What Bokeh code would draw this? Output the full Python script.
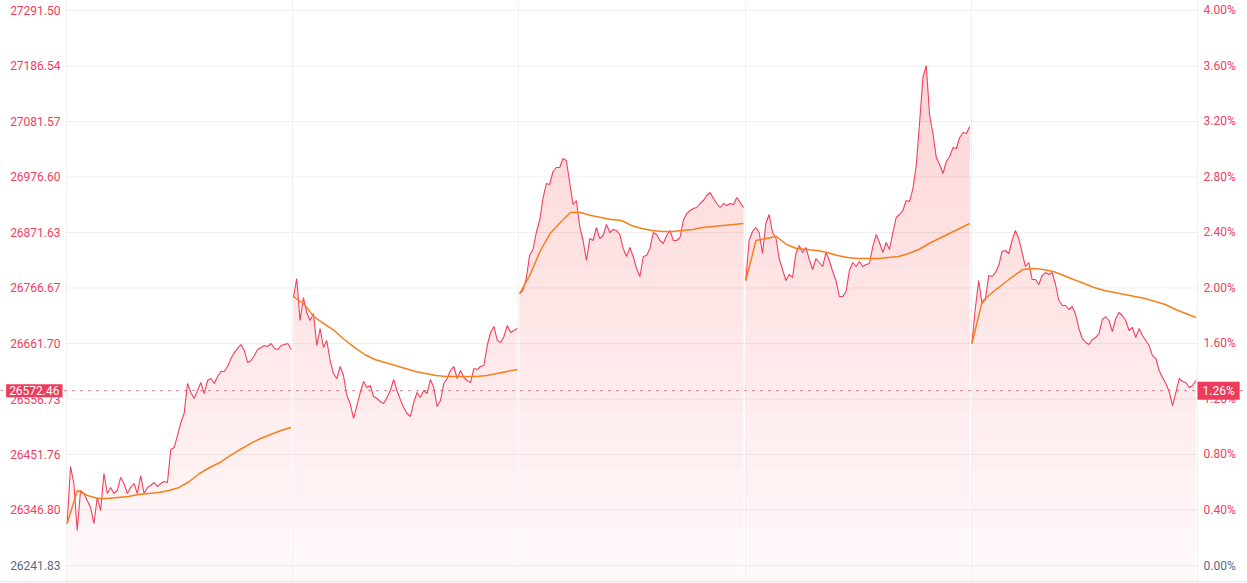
from bokeh.plotting import figure
from bokeh.models import Range1d, LinearAxis, FixedTicker, CustomJSTickFormatter, Span, Label
from bokeh.embed import file_html
from bokeh.resources import INLINE

base_price = 26241.83
last_price = 26572.46
left_ticks = [26241.83, 26346.80, 26451.76, 26556.73, 26661.70, 26766.67,
              26871.63, 26976.60, 27081.57, 27186.54, 27291.50]
pct_ticks = [0.00, 0.40, 0.80, 1.20, 1.60, 2.00, 2.40, 2.80, 3.20, 3.60, 4.00]
day_bounds = [0, 1, 2, 3, 4, 5]

day1_price = [26321.2, 26429.1, 26396.9, 26308.0, 26383.7, 26378.0, 26364.7, 26351.5, 26321.2, 26370.5,
              26345.8, 26415.8, 26378.0, 26389.4, 26378.0, 26383.7, 26408.3, 26396.9, 26378.0, 26389.4,
              26396.9, 26378.0, 26412.0, 26378.0, 26389.4, 26393.1, 26398.8, 26391.3, 26396.9, 26400.7,
              26398.8, 26461.2, 26465.0, 26487.6, 26512.3, 26529.3, 26586.0, 26569.0, 26557.7, 26572.8,
              26587.9, 26567.1, 26591.7, 26595.5, 26586.0, 26599.3, 26608.7, 26608.7, 26618.2, 26633.3,
              26644.6, 26652.3, 26659.8, 26648.4, 26625.7, 26629.5, 26638.9, 26650.3, 26654.2, 26657.9,
              26656.0, 26661.7, 26652.3, 26650.3, 26657.9, 26659.8, 26661.7, 26650.3]
day1_avg = [26321.2, 26383.7, 26374.2, 26368.5, 26368.5, 26370.5, 26372.4, 26376.1, 26378.0, 26379.9,
            26383.7, 26389.4, 26400.7, 26415.8, 26427.2, 26436.6, 26449.8, 26461.2, 26472.5, 26482.0,
            26489.5, 26497.1, 26502.8]

day2_price = [26748.7, 26784.6, 26705.2, 26748.7, 26720.3, 26705.2, 26718.4, 26657.9, 26690.1, 26654.2,
              26667.4, 26629.5, 26604.9, 26595.5, 26618.2, 26601.1, 26563.3, 26548.2, 26519.9, 26544.4,
              26569.0, 26589.8, 26578.5, 26582.2, 26561.5, 26557.7, 26552.0, 26548.2, 26559.6, 26572.8,
              26593.6, 26572.8, 26555.8, 26540.7, 26529.3, 26523.7, 26550.1, 26569.0, 26559.6, 26572.8,
              26567.1, 26593.6, 26578.5, 26542.6, 26553.9, 26586.0, 26595.5, 26610.6, 26618.2, 26595.5,
              26610.6, 26597.4, 26591.7, 26587.9, 26614.4, 26612.5, 26618.2, 26620.1, 26657.9, 26682.5,
              26694.0, 26667.4, 26663.6, 26675.0, 26695.9, 26682.5, 26686.3, 26690.1]
day2_avg = [26750.6, 26737.3, 26712.6, 26699.5, 26686.3, 26669.3, 26654.2, 26640.9, 26631.4, 26625.7,
            26620.1, 26614.4, 26608.7, 26604.9, 26601.1, 26599.3, 26599.3, 26599.3, 26599.3, 26601.1,
            26604.9, 26608.7, 26612.5]

day3_price = [26756.2, 26761.9, 26784.6, 26828.1, 26839.5, 26871.6, 26894.3, 26935.9, 26964.3, 26962.4,
              26987.0, 26994.6, 26994.6, 27011.6, 27007.8, 26966.2, 26924.6, 26932.1, 26883.0, 26856.5,
              26818.7, 26860.3, 26856.5, 26881.1, 26860.3, 26865.9, 26886.7, 26871.6, 26877.3, 26875.4,
              26867.8, 26841.4, 26826.2, 26843.3, 26826.2, 26803.5, 26788.4, 26826.2, 26828.1, 26841.4,
              26871.6, 26867.8, 26856.5, 26850.8, 26865.9, 26875.4, 26856.5, 26856.5, 26862.2, 26894.3,
              26907.5, 26913.2, 26917.0, 26918.9, 26926.5, 26932.1, 26941.6, 26947.3, 26935.9, 26926.5,
              26918.9, 26926.5, 26922.7, 26926.5, 26924.6, 26937.8, 26928.4, 26918.9]
day3_avg = [26756.2, 26790.3, 26835.7, 26869.7, 26890.5, 26909.4, 26909.4, 26903.8, 26900.0, 26896.2,
            26894.3, 26884.9, 26879.2, 26875.4, 26873.5, 26873.5, 26875.4, 26877.3, 26881.1, 26883.0,
            26884.9, 26886.7, 26888.6]

day4_price = [26780.8, 26856.5, 26873.5, 26881.1, 26871.6, 26831.9, 26888.6, 26905.7, 26871.6, 26862.2,
              26822.4, 26801.6, 26780.8, 26792.2, 26786.5, 26831.9, 26847.0, 26833.8, 26843.3, 26820.6,
              26801.6, 26822.4, 26814.9, 26807.3, 26833.8, 26818.7, 26797.9, 26780.8, 26750.6, 26750.6,
              26760.0, 26799.7, 26814.9, 26807.3, 26816.8, 26807.3, 26811.1, 26813.0, 26845.1, 26867.8,
              26852.7, 26833.8, 26852.7, 26839.5, 26871.6, 26900.0, 26905.7, 26913.2, 26932.1, 26930.2,
              26954.8, 26998.4, 27079.7, 27164.8, 27187.5, 27092.9, 27058.9, 27013.5, 27000.2, 26983.2,
              27005.9, 27015.4, 27032.4, 27030.5, 27051.3, 27060.8, 27058.9, 27072.1]
day4_avg = [26780.8, 26856.5, 26860.3, 26864.1, 26848.9, 26841.4, 26839.5, 26837.6, 26833.8, 26828.1,
            26824.3, 26822.4, 26822.4, 26822.4, 26824.3, 26826.2, 26831.9, 26839.5, 26850.8, 26860.3,
            26869.7, 26879.2, 26888.6]

day5_price = [26661.7, 26727.9, 26780.8, 26737.3, 26744.9, 26790.3, 26788.4, 26795.9, 26809.2, 26835.7,
              26837.6, 26831.9, 26856.5, 26875.4, 26860.3, 26833.8, 26807.3, 26814.9, 26782.7, 26782.7,
              26773.3, 26790.3, 26795.9, 26792.2, 26795.9, 26773.3, 26743.0, 26733.6, 26733.6, 26726.0,
              26731.7, 26716.5, 26690.1, 26671.2, 26663.6, 26659.8, 26669.3, 26673.0, 26680.6, 26707.1,
              26712.6, 26705.2, 26684.4, 26709.0, 26720.3, 26714.6, 26705.2, 26686.3, 26692.0, 26673.0,
              26690.1, 26676.8, 26667.4, 26657.9, 26638.9, 26633.3, 26610.6, 26597.4, 26586.0, 26570.9,
              26544.4, 26569.0, 26595.5, 26589.8, 26587.9, 26578.5, 26582.2, 26591.7]
day5_avg = [26661.7, 26741.1, 26758.1, 26773.3, 26788.4, 26801.6, 26803.5, 26801.6, 26797.9, 26790.3,
            26782.7, 26775.2, 26767.6, 26761.9, 26758.1, 26754.3, 26750.6, 26746.8, 26741.1, 26735.4,
            26726.0, 26718.4, 26710.8]

days = [(day1_price, day1_avg), (day2_price, day2_avg), (day3_price, day3_avg),
        (day4_price, day4_avg), (day5_price, day5_avg)]

RED = "#f0405e"
BOX = "#ee3b5b"
ORANGE = "#f77f1c"
GRID = "#f0f0f0"
MUTED = "#5b6a85"
FONT = "Roboto"

W, H = 1247, 583
# frame covers the full figure; the five trading days occupy the middle part
px_day = 1131 / 5.0
x_start = -66 / px_day
x_end = 5 + 50 / px_day
px_price = (left_ticks[-1] - left_ticks[0]) / 555.0
y_end = left_ticks[-1] + 10 * px_price
y_start = left_ticks[0] - 18 * px_price

p = figure(width=W, height=H, output_backend="svg", toolbar_location=None,
           x_range=Range1d(x_start, x_end), y_range=Range1d(y_start, y_end),
           min_border=0, min_border_left=0, min_border_right=0, min_border_top=0, min_border_bottom=0)
p.background_fill_color = "white"
p.border_fill_color = "white"
p.outline_line_color = None
p.extra_y_ranges = {"pct": Range1d((y_start / base_price - 1) * 100, (y_end / base_price - 1) * 100)}

p.xaxis.visible = False
p.xgrid.ticker = FixedTicker(ticks=day_bounds)
p.xgrid.grid_line_color = GRID
p.ygrid.visible = False

# horizontal grid lines only across the trading days
p.segment(x0=[day_bounds[0]] * len(left_ticks), x1=[day_bounds[-1]] * len(left_ticks),
          y0=left_ticks, y1=left_ticks, line_color=GRID, line_width=1)

ya = p.yaxis[0]
ya.fixed_location = day_bounds[0]
ya.ticker = FixedTicker(ticks=left_ticks)
ya.formatter = CustomJSTickFormatter(args=dict(lo=left_ticks[0]),
                                     code="return Math.abs(tick - lo) < 0.01 ? '' : tick.toFixed(2);")
ra = LinearAxis(y_range_name="pct", ticker=FixedTicker(ticks=pct_ticks), fixed_location=day_bounds[-1],
                formatter=CustomJSTickFormatter(code="return Math.abs(tick) < 1e-6 ? '' : tick.toFixed(2) + '%';"))
p.add_layout(ra, "right")
for ax in (ya, ra):
    ax.axis_line_color = None
    ax.major_tick_line_color = None
    ax.minor_tick_line_color = None
    ax.major_tick_out = 0
    ax.major_tick_in = 0
    ax.minor_tick_out = 0
    ax.minor_tick_in = 0
    ax.major_label_text_color = RED
    ax.major_label_text_font = FONT
    ax.major_label_text_font_size = "12px"
    ax.major_label_standoff = 6

p.add_layout(Span(location=left_ticks[0] - 16 * px_price, dimension="width",
                  line_color="#e4e4e4", line_width=1))

n_layers = 20
levels = [y_start + (left_ticks[-1] - y_start) * k / n_layers for k in range(1, n_layers)]

for d, (prices, avgs) in enumerate(days):
    n = len(prices)
    xs = [d + 0.003 + 0.99 * i / (n - 1) for i in range(n)]
    p.varea(x=xs, y1=[y_start] * n, y2=prices, fill_color=RED, fill_alpha=0.04)
    for lv in levels:
        p.varea(x=xs, y1=[lv] * n, y2=[max(v, lv) for v in prices], fill_color=RED, fill_alpha=0.011)

for d, (prices, avgs) in enumerate(days):
    n = len(prices)
    xs = [d + 0.003 + 0.99 * i / (n - 1) for i in range(n)]
    p.line(xs, prices, line_color=RED, line_width=1.1)
    m = len(avgs)
    xa = [d + 0.003 + 0.99 * i / (m - 1) for i in range(m)]
    p.line(xa, avgs, line_color=ORANGE, line_width=1.5)

p.add_layout(Span(location=last_price, dimension="width", line_color=RED, line_width=1, line_dash="2 6"))

p.add_layout(Label(x=day_bounds[0], y=left_ticks[0], x_offset=-6, text=f"{left_ticks[0]:.2f}",
                   text_align="right", text_baseline="middle", text_color=MUTED,
                   text_font=FONT, text_font_size="12px"))
p.add_layout(Label(x=day_bounds[-1], y=pct_ticks[0], y_range_name="pct", x_offset=6,
                   text=f"{pct_ticks[0]:.2f}%",
                   text_align="left", text_baseline="middle", text_color=MUTED,
                   text_font=FONT, text_font_size="12px"))

p.add_layout(Label(x=day_bounds[0], y=last_price, x_offset=-4, text=f"{last_price:.2f}",
                   text_align="right", text_baseline="middle", text_color="white",
                   background_fill_color=BOX, padding=(3, 2),
                   text_font=FONT, text_font_size="12px"))
pct_last = (last_price / base_price - 1) * 100
p.add_layout(Label(x=day_bounds[-1], y=last_price, x_offset=0, text=f"{pct_last:.2f}%",
                   text_align="left", text_baseline="middle", text_color="white",
                   background_fill_color=BOX, padding=(5, 2),
                   text_font=FONT, text_font_size="12px"))

open("out.html", "w").write(file_html(p, INLINE))
